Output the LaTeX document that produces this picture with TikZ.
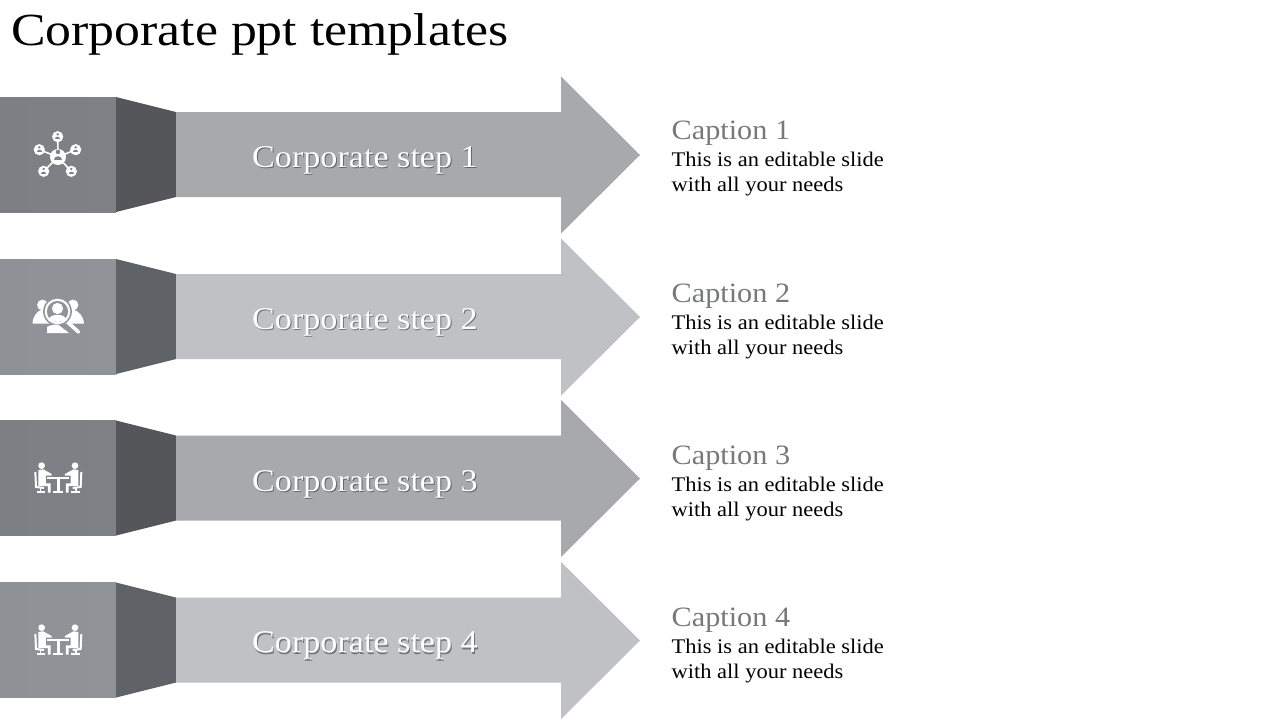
\documentclass[tikz,border=0pt]{standalone}
\usepackage{fontspec}
\setmainfont{Liberation Serif}
\newfontfamily\widefont[FakeStretch=1.08]{Liberation Serif}
\newfontfamily\titlefont[FakeStretch=1.125]{Liberation Serif}
\definecolor{boxA}{HTML}{7E8185}
\definecolor{boxAl}{HTML}{7C7F83}
\definecolor{boxB}{HTML}{909398}
\definecolor{boxBl}{HTML}{8E9196}
\definecolor{sideA}{HTML}{55565A}
\definecolor{sideB}{HTML}{5F6266}
\definecolor{arrowA}{HTML}{A8A9AD}
\definecolor{arrowB}{HTML}{C0C1C5}
\definecolor{capgrey}{HTML}{77787C}
\newcommand{\shadowed}[2]{\rlap{\hspace{1pt}\raisebox{-1.5pt}{\textcolor{#1}{#2}}}#2}
\tikzset{
 x=1pt,y=-1pt,
 title/.style={anchor=base west,inner sep=0,font=\titlefont\fontsize{46}{46}\selectfont,text=black},
 steplabel/.style={anchor=base,inner sep=0,font=\widefont\fontsize{31.6}{32}\selectfont,text=white},
 captionlabel/.style={anchor=base west,inner sep=0,font=\widefont\fontsize{28}{28}\selectfont,text=capgrey},
 bodylabel/.style={anchor=base west,inner sep=0,font=\widefont\fontsize{20.8}{22}\selectfont,text=black},
 iconline/.style={draw=white,line width=1.6pt,fill=none},
 pics/row/.style n args={4}{code={
  \fill[left color=#1,right color=#2] (0,0) rectangle (116,115);
  \fill[#3] (116,0) -- (176,15) -- (176,100) -- (116,115) -- cycle;
  \fill[#4] (176,15) -- (561,15) -- (561,-20.5) -- (640,58) -- (561,136.5) -- (561,100) -- (176,100) -- cycle;
 }},
 pics/seat/.style={code={
  \fill[white] (65,47) circle (10);
  \fill[white] (55,60) -- (70,58) -- (95,72) -- (95,77) -- (78,77) -- (78,100) -- (92,100) -- (92,128) -- (84,128) -- (84,108) -- (55,108) -- cycle;
  \draw[white,line width=2pt] (46,66) -- (48,111) -- (72,114);
  \draw[white,line width=1.6pt] (62,114) -- (62,127);
  \fill[white] (50,124) rectangle (76,129);
 }},
 pics/meeting/.style={code={
  \begin{scope}[x=.3333pt,y=-.3333pt]
   \pic {seat};
   \begin{scope}[shift={(230,0)},x=-.3333pt]
    \pic {seat};
   \end{scope}
   \fill[white] (82,80) rectangle (148,88);
   \fill[white] (110,88) rectangle (120,123);
   \fill[white] (100,122) rectangle (130,129);
  \end{scope}
 }},
}
\begin{document}
\begin{tikzpicture}
\useasboundingbox (0,0) rectangle (1280,720);
\fill[white] (0,0) rectangle (1280,720);
\node[title] (t) at (11,45) {Corporate ppt templates};

\pic at (0,97) {row={boxAl}{boxA}{sideA}{arrowA}};
\pic at (0,259) {row={boxBl}{boxB}{sideB}{arrowB}};
\pic at (0,420.5) {row={boxAl}{boxA}{sideA}{arrowA}};
\pic at (0,582.5) {row={boxBl}{boxB}{sideB}{arrowB}};

% icon 1: network
\draw[iconline] (58,157) -- (57.7,137) (58,157) -- (39.3,149.7) (58,157) -- (75.7,149.7) (58,157) -- (43.7,171.3) (58,157) -- (71.3,171.3);
\fill[white] (58,157) circle (8);
\foreach \p in {(57.7,136.7),(39.3,149.7),(75.7,149.7),(43.7,171.3),(71.3,171.3)} {\fill[white] \p circle (5.6);}
\begin{scope}[boxA]
 \foreach \cx/\cy/\s in {58/156.5/1.2,57.7/137/.7,39.3/150/.7,75.7/150/.7,43.7/171.6/.7,71.3/171.6/.7} {
  \fill (\cx,\cy-3.8*\s) circle (1.9*\s);
  \fill (\cx-3.6*\s,\cy+3.2*\s) .. controls (\cx-3.6*\s,\cy-1*\s) and (\cx+3.6*\s,\cy-1*\s) .. (\cx+3.6*\s,\cy+3.2*\s) -- cycle;
 }
\end{scope}

% icon 2: people under a magnifier
\fill[white] (42.5,305) circle (5.4);
\fill[white] (73,305) circle (5.4);
\fill[white] (32.5,323.5) .. controls (33,316) and (37,311) .. (43,309) -- (50,323.5) -- cycle;
\fill[white] (84,323.5) .. controls (83.5,316) and (79,311) .. (72,309) -- (65,323.5) -- cycle;
\fill[boxB] (57.5,311.5) circle (14.4);
\fill[white] (47,333) -- (47,327) .. controls (50,325) and (54,324.5) .. (58,324.5) -- (69,333) -- cycle;
\fill[white] (57.5,311.5) circle (12.8);
\fill[boxB] (57.5,311.5) circle (10.6);
\fill[white] (57.5,308.5) circle (5.6);
\fill[white] (49,319) .. controls (50,313.5) and (65,313.5) .. (66,319) .. controls (62,323) and (53,323) .. (49,319) -- cycle;
\draw[white,line width=3.6pt,line cap=round] (68.5,323) -- (78.5,332);

% icons 3, 4: meeting
\pic at (20,450) {meeting};
\pic at (20,612) {meeting};

% labels
\node[steplabel] (s1) at (365,167) {\shadowed{arrowA!60!black}{Corporate step 1}};
\node[steplabel] (s2) at (365,329) {\shadowed{arrowB!60!black}{Corporate step 2}};
\node[steplabel] (s3) at (365,491) {\shadowed{arrowA!60!black}{Corporate step 3}};
\node[steplabel] (s4) at (365,652.5) {\shadowed{arrowB!60!black}{Corporate step 4}};

\node[captionlabel] (c1) at (671.5,139) {Caption 1};
\node[captionlabel] (c2) at (671.5,302) {Caption 2};
\node[captionlabel] (c3) at (671.5,464) {Caption 3};
\node[captionlabel] (c4) at (671.5,626) {Caption 4};

\node[bodylabel] (b1a) at (671.5,166) {This is an editable slide};
\node[bodylabel] (b1b) at (671.5,191) {with all your needs};
\node[bodylabel] (b2a) at (671.5,329) {This is an editable slide};
\node[bodylabel] (b2b) at (671.5,354) {with all your needs};
\node[bodylabel] (b3a) at (671.5,491) {This is an editable slide};
\node[bodylabel] (b3b) at (671.5,516) {with all your needs};
\node[bodylabel] (b4a) at (671.5,653) {This is an editable slide};
\node[bodylabel] (b4b) at (671.5,678) {with all your needs};
\end{tikzpicture}
\end{document}
